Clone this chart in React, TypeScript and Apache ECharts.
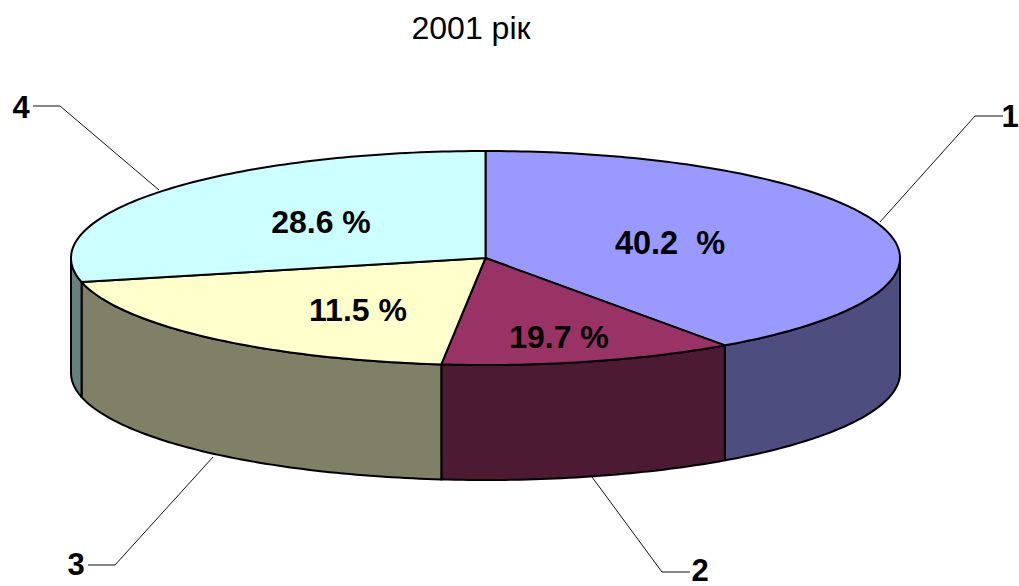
import React, { useEffect, useRef } from "react";
import * as echarts from "echarts";

const titleText = "2001 рік";
const sliceNames = ["1", "2", "3", "4"];
// Shares as the sectors are actually drawn in the picture (clockwise from the top).
const sliceShares = [40.2, 11.5, 19.7, 28.6];
// Printed labels (the picture prints the 2nd and 3rd the other way round).
const sliceLabels = ["40.2  %", "19.7 %", "11.5 %", "28.6 %"];
const topColors = ["#9999FF", "#993366", "#FFFFCC", "#CCFFFF"];
const sideColors = ["#4D4D80", "#4D1A33", "#808066", "#668080"];

const CX = 485.5, CY = 258, RX = 414.5, RY = 107, DEPTH = 115;
const FONT = "'Liberation Sans', Arial, sans-serif";

const pt = (deg: number, dy = 0): number[] => {
  const t = (deg * Math.PI) / 180;
  return [CX + RX * Math.sin(t), CY - RY * Math.cos(t) + dy];
};
const arc = (a: number, b: number, dy = 0): number[][] => {
  const n = Math.max(2, Math.ceil(Math.abs(b - a)));
  const out: number[][] = [];
  for (let i = 0; i <= n; i++) out.push(pt(a + ((b - a) * i) / n, dy));
  return out;
};

const total = sliceShares.reduce((s, v) => s + v, 0);
const ranges: number[][] = [];
sliceShares.reduce((acc, v) => {
  const next = acc + (v / total) * 360;
  ranges.push([acc, next]);
  return next;
}, 0);

const renderSlice = (params: any) => {
  const i = params.dataIndex;
  const [a, b] = ranges[i];
  const children: any[] = [];
  const s = Math.max(a, 90), e = Math.min(b, 270);
  if (e > s) {
    children.push({
      type: "polygon",
      shape: { points: [...arc(s, e), ...arc(e, s, DEPTH)] },
      style: { fill: sideColors[i], stroke: "#000", lineWidth: 2, lineJoin: "round" },
    });
  }
  children.push({
    type: "polygon",
    shape: { points: [[CX, CY], ...arc(a, b)] },
    style: { fill: topColors[i], stroke: "#000", lineWidth: 2, lineJoin: "round" },
  });
  return { type: "group", children };
};

const leader = (points: number[][]) => ({
  type: "polyline",
  shape: { points },
  style: { fill: "none", stroke: "#111", lineWidth: 1 },
  z: 20,
});
const boldText = (text: string, x: number, y: number, size = 32) => ({
  type: "text",
  x,
  y,
  style: { text, font: `bold ${size}px ${FONT}`, fill: "#000", align: "center", verticalAlign: "middle" },
  z: 21,
});

export default function App() {
  const ref = useRef<HTMLDivElement>(null);
  useEffect(() => {
    const chart = echarts.init(ref.current!, undefined, { renderer: "svg", width: 1019, height: 586 });
    chart.setOption({
      animation: false,
      backgroundColor: "#fff",
      title: {
        text: titleText,
        left: 466,
        top: 23,
        textAlign: "center",
        textVerticalAlign: "middle",
        textStyle: { fontFamily: FONT, fontWeight: "normal", fontSize: 32, color: "#000" },
      },
      series: [
        {
          type: "custom",
          coordinateSystem: "none",
          renderItem: renderSlice,
          data: sliceShares.map((value, i) => ({ name: sliceNames[i], value })),
          silent: true,
        },
      ],
      graphic: [
        leader([[880, 222], [975, 116], [1003, 116]]),
        leader([[592, 477], [662, 572], [690, 572]]),
        leader([[213, 457], [115, 565], [88, 565]]),
        leader([[159, 190], [60, 106], [33, 106]]),
        boldText(sliceNames[0], 1010, 116, 31),
        boldText(sliceNames[1], 700, 570, 31),
        boldText(sliceNames[2], 76, 564, 31),
        boldText(sliceNames[3], 21, 107, 31),
        boldText(sliceLabels[0], 670, 243, 32.5),
        boldText(sliceLabels[1], 559, 337),
        boldText(sliceLabels[2], 358, 310),
        boldText(sliceLabels[3], 321, 222),
      ],
    });
    return () => chart.dispose();
  }, []);
  return <div ref={ref} style={{ position: "fixed", left: 0, top: 0, width: 1019, height: 586 }} />;
}
